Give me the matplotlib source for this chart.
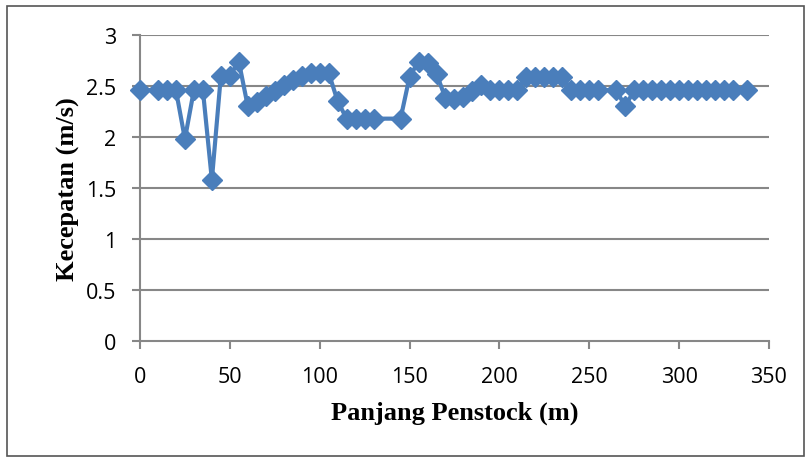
import matplotlib
matplotlib.use("Agg")
import matplotlib.pyplot as plt
from matplotlib.patches import Rectangle

# Panjang penstock (m) vs kecepatan (m/s)
panjang = [0, 10, 15, 20, 25, 30, 35, 40, 45, 50, 55, 60, 65, 70, 75, 80, 85, 90, 95, 100,
           105, 110, 115, 120, 125, 130, 145, 150, 155, 160, 165, 170, 175, 180, 185, 190,
           195, 200, 205, 210, 215, 220, 225, 230, 235, 240, 245, 250, 255, 265, 270,
           275, 280, 285, 290, 295, 300, 305, 310, 315, 320, 325, 330, 338]
kecepatan = [2.46, 2.46, 2.46, 2.46, 1.98, 2.46, 2.46, 1.58, 2.60, 2.60, 2.74, 2.30, 2.34, 2.40,
             2.45, 2.51, 2.56, 2.60, 2.63, 2.63, 2.63, 2.35, 2.18, 2.18, 2.18, 2.18, 2.18, 2.59,
             2.74, 2.73, 2.62, 2.38, 2.37, 2.39, 2.45, 2.51, 2.46, 2.46, 2.46, 2.46, 2.59, 2.59,
             2.59, 2.59, 2.59, 2.46, 2.46, 2.46, 2.46, 2.46, 2.30, 2.46, 2.46, 2.46, 2.46, 2.46,
             2.46, 2.46, 2.46, 2.46, 2.46, 2.46, 2.46, 2.46]

xticks = [0, 50, 100, 150, 200, 250, 300, 350]
yticks = [0, 0.5, 1, 1.5, 2, 2.5, 3]
ytick_labels = ["0", "0.5", "1", "1.5", "2", "2.5", "3"]


def main():
  fig = plt.figure(figsize=(8.11, 4.64), dpi=100)
  ax = fig.add_axes([0.1726, 0.2629, 0.7756, 0.6595])

  grid_col = "#878787"
  for y in yticks[1:]:
    ax.axhline(y, color=grid_col, lw=1.5, zorder=1)

  ax.plot(panjang, kecepatan, color="#4A7EBB", lw=3, marker="D", markersize=10,
          markeredgecolor="#4A7EBB", zorder=3, clip_on=False)

  ax.set_xlim(0, 350)
  ax.set_ylim(0, 3)
  ax.set_xticks(xticks)
  ax.set_yticks(yticks)
  ax.set_yticklabels(ytick_labels)

  for s in ["top", "right"]:
    ax.spines[s].set_visible(False)
  for s in ["left", "bottom"]:
    ax.spines[s].set_color(grid_col)
    ax.spines[s].set_linewidth(1.5)
  ax.tick_params(axis="both", direction="out", length=6, width=1.5, color=grid_col,
                 labelsize=15.5)
  ax.tick_params(axis="x", pad=12)
  ax.tick_params(axis="y", pad=11)
  for lab in ax.get_xticklabels() + ax.get_yticklabels():
    lab.set_fontfamily("Open Sans")

  ax.set_xlabel("Panjang Penstock (m)", fontsize=19, fontweight="bold",
                family="Liberation Serif", labelpad=10)
  ax.set_ylabel("Kecepatan (m/s)", fontsize=19, fontweight="bold",
                family="Liberation Serif", labelpad=4)

  # outer frame of the chart
  fig.patches.append(Rectangle((0.009, 0.015), 0.982, 0.97, transform=fig.transFigure,
                               fill=False, edgecolor="#555555", lw=1.2))

  fig.savefig("out.png", dpi=100)


if __name__ == '__main__':
  main()
